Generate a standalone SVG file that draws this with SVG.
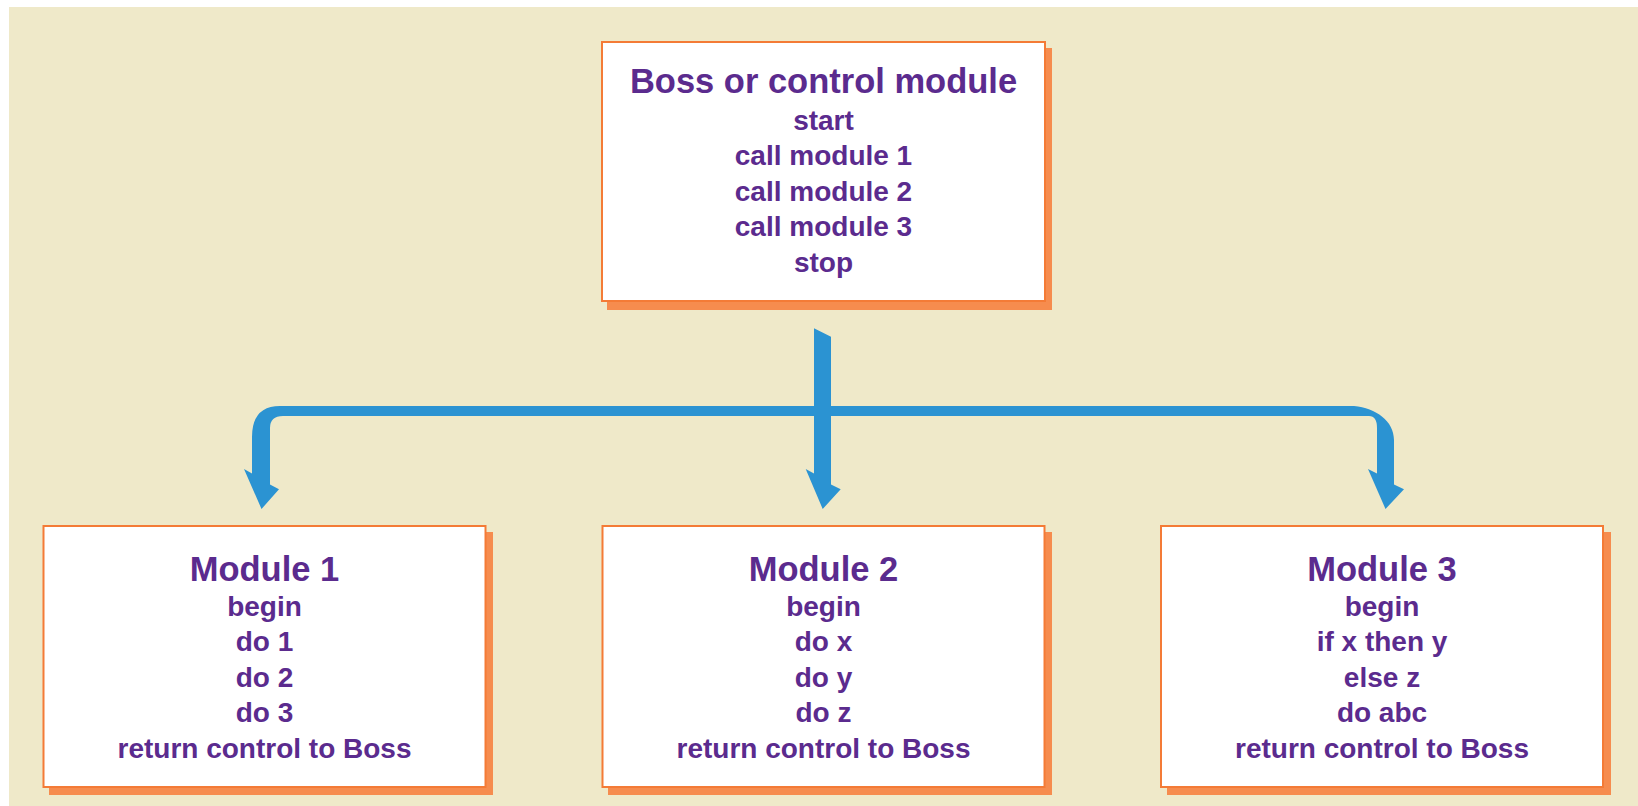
<svg xmlns="http://www.w3.org/2000/svg" width="1638" height="806" viewBox="0 0 1638 806">
  <style>
    .shadow { fill: #F68C4E; }
    .box { fill: #FFFFFF; stroke: #F47B36; stroke-width: 2; }
    .title { font-family: "Liberation Sans", Arial, sans-serif; font-weight: bold; font-size: 34.5px; fill: #5B2B8E; text-anchor: middle; }
    .line { font-family: "Liberation Sans", Arial, sans-serif; font-weight: bold; font-size: 28px; fill: #5B2B8E; text-anchor: middle; }
    .flow { fill: #2B93D2; }
  </style>

  <!-- page background -->
  <rect x="0" y="0" width="1638" height="806" fill="#FFFFFF"/>
  <rect x="9" y="7" width="1629" height="799" fill="#EFE9C9"/>

  <!-- control flow arrows -->
  <g id="connectors">
    <!-- branch bar feeding modules 1 and 3 -->
    <path class="flow" d="M 252 473.5 L 252 437 Q 252 406 280 406 L 1354 406 C 1376 408 1394 421 1394 440 L 1394 484.5 L 1404 489.3 L 1385.5 509 L 1368 469 L 1377 473.5 L 1377 428 Q 1377 416 1369 416 L 283 416 Q 270 416 270 428 L 270 484.5 L 279 489.3 L 261.5 509 L 244 469 Z"/>
    <!-- trunk from boss down to module 2 -->
    <path class="flow" d="M 814 328.3 L 831 336.7 L 831 484.5 L 840.7 489.3 L 822.7 509 L 805.7 469 L 814 473.5 Z"/>
  </g>

  <g id="boss">
    <rect class="shadow" x="607" y="48" width="445" height="262"/>
    <rect class="box" x="602" y="42" width="443" height="259"/>
    <text class="title" x="823.5" y="93">Boss or control module</text>
    <text class="line" x="823.5" y="129.5">start</text>
    <text class="line" x="823.5" y="165">call module 1</text>
    <text class="line" x="823.5" y="200.5">call module 2</text>
    <text class="line" x="823.5" y="236">call module 3</text>
    <text class="line" x="823.5" y="271.5">stop</text>
  </g>

  <g id="module1">
    <rect class="shadow" x="49" y="532" width="444" height="263"/>
    <rect class="box" x="43.5" y="526" width="442" height="261"/>
    <text class="title" x="264.5" y="580.5">Module 1</text>
    <text class="line" x="264.5" y="615.5">begin</text>
    <text class="line" x="264.5" y="651">do 1</text>
    <text class="line" x="264.5" y="686.5">do 2</text>
    <text class="line" x="264.5" y="722">do 3</text>
    <text class="line" x="264.5" y="757.5">return control to Boss</text>
  </g>

  <g id="module2">
    <rect class="shadow" x="608" y="532" width="444" height="263"/>
    <rect class="box" x="602.5" y="526" width="442" height="261"/>
    <text class="title" x="823.5" y="580.5">Module 2</text>
    <text class="line" x="823.5" y="615.5">begin</text>
    <text class="line" x="823.5" y="651">do x</text>
    <text class="line" x="823.5" y="686.5">do y</text>
    <text class="line" x="823.5" y="722">do z</text>
    <text class="line" x="823.5" y="757.5">return control to Boss</text>
  </g>

  <g id="module3">
    <rect class="shadow" x="1167" y="532" width="444" height="263"/>
    <rect class="box" x="1161" y="526" width="442" height="261"/>
    <text class="title" x="1382" y="580.5">Module 3</text>
    <text class="line" x="1382" y="615.5">begin</text>
    <text class="line" x="1382" y="651">if x then y</text>
    <text class="line" x="1382" y="686.5">else z</text>
    <text class="line" x="1382" y="722">do abc</text>
    <text class="line" x="1382" y="757.5">return control to Boss</text>
  </g>
</svg>
